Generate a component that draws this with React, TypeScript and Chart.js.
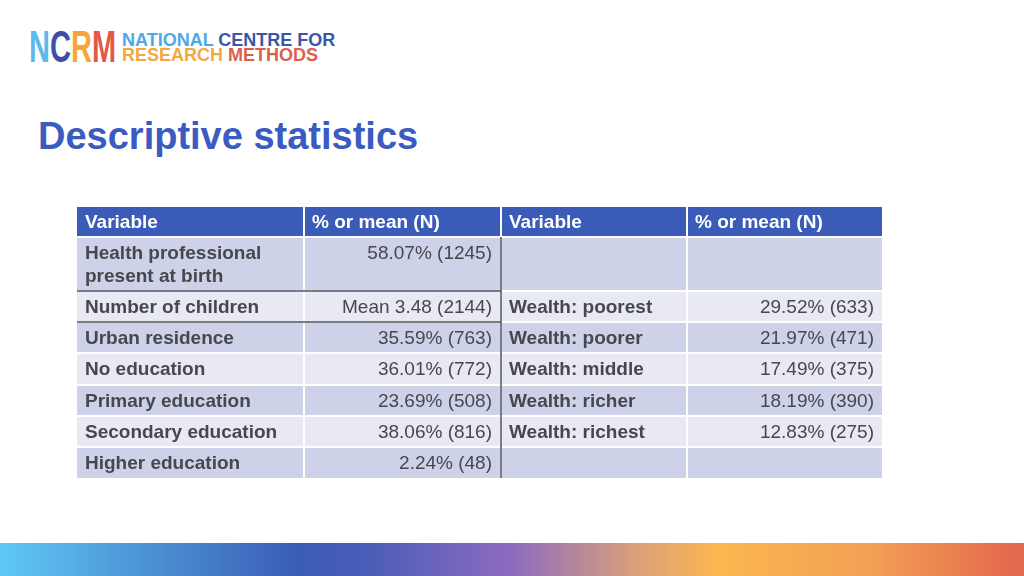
import React, { useEffect, useRef } from "react";
import { Chart, registerables } from "chart.js";

Chart.register(...registerables);

// ---- data ----
const HEADERS = ["Variable", "% or mean (N)", "Variable", "% or mean (N)"];
const LEFT_VARIABLES = [
  ["Health professional", "present at birth"],
  ["Number of children"],
  ["Urban residence"],
  ["No education"],
  ["Primary education"],
  ["Secondary education"],
  ["Higher education"],
];
const LEFT_VALUES = [
  "58.07% (1245)",
  "Mean 3.48 (2144)",
  "35.59% (763)",
  "36.01% (772)",
  "23.69% (508)",
  "38.06% (816)",
  "2.24% (48)",
];
const RIGHT_VARIABLES = [
  [""],
  ["Wealth: poorest"],
  ["Wealth: poorer"],
  ["Wealth: middle"],
  ["Wealth: richer"],
  ["Wealth: richest"],
  [""],
];
const RIGHT_VALUES = [
  "",
  "29.52% (633)",
  "21.97% (471)",
  "17.49% (375)",
  "18.19% (390)",
  "12.83% (275)",
  "",
];

// ---- layout (table units) ----
const COL_EDGES = [0, 227, 424, 610, 805];
const ROW_EDGES = [0, 30, 84, 115, 146, 178, 209, 240, 271];
const TABLE_W = 805;
const TABLE_H = 271;

const HEADER_BG = "#3B5BB9";
const ROW_DARK = "#CED2E9";
const ROW_LIGHT = "#E8E9F3";
const TEXT_COLOR = "#46474F";
const RULE_COLOR = "#4F525E";
const FONT_FAMILY = '"Liberation Sans", Arial, Helvetica, sans-serif';

const tablePlugin = {
  id: "tablePlugin",
  afterDraw(chart: any) {
    const ctx = chart.ctx as CanvasRenderingContext2D;
    const xs = chart.scales.x;
    const ys = chart.scales.y;
    const X = (v: number) => xs.getPixelForValue(v);
    const Y = (v: number) => ys.getPixelForValue(v);
    const nRows = ROW_EDGES.length - 1;
    const nCols = COL_EDGES.length - 1;
    ctx.save();
    // cell fills
    for (let r = 0; r < nRows; r++) {
      for (let c = 0; c < nCols; c++) {
        let x0 = X(COL_EDGES[c]);
        let x1 = X(COL_EDGES[c + 1]);
        let y0 = Y(ROW_EDGES[r]);
        let y1 = Y(ROW_EDGES[r + 1]);
        if (c > 0) x0 += 1;
        if (c < nCols - 1) x1 -= 1;
        if (r > 0) y0 += 1;
        if (r < nRows - 1) y1 -= 1;
        ctx.fillStyle = r === 0 ? HEADER_BG : r % 2 === 1 ? ROW_DARK : ROW_LIGHT;
        ctx.fillRect(x0, y0, x1 - x0, y1 - y0);
      }
    }
    // dark rules
    ctx.strokeStyle = RULE_COLOR;
    ctx.lineWidth = 1.5;
    ctx.beginPath();
    for (const r of [2, 3]) {
      const y = Y(ROW_EDGES[r]);
      ctx.moveTo(X(COL_EDGES[0]), y);
      ctx.lineTo(X(COL_EDGES[2]), y);
    }
    const vx = X(COL_EDGES[2]);
    ctx.moveTo(vx, Y(ROW_EDGES[1]));
    ctx.lineTo(vx, Y(ROW_EDGES[nRows]));
    ctx.stroke();

    // header text
    ctx.textBaseline = "middle";
    ctx.font = `bold 19px ${FONT_FAMILY}`;
    ctx.fillStyle = "#FFFFFF";
    ctx.textAlign = "left";
    HEADERS.forEach((h, c) => {
      const x0 = X(COL_EDGES[c]);
      const yc = (Y(ROW_EDGES[0]) + Y(ROW_EDGES[1])) / 2;
      ctx.fillText(h, x0 + 8, yc + 1);
    });

    // body text
    ctx.fillStyle = TEXT_COLOR;
    for (let i = 0; i < LEFT_VARIABLES.length; i++) {
      const r = i + 1;
      const yTop = Y(ROW_EDGES[r]);
      const first = yTop + 17;
      ctx.font = `bold 19px ${FONT_FAMILY}`;
      ctx.textAlign = "left";
      LEFT_VARIABLES[i].forEach((line, k) => {
        ctx.fillText(line, X(COL_EDGES[0]) + 8, first + k * 23);
      });
      RIGHT_VARIABLES[i].forEach((line, k) => {
        ctx.fillText(line, X(COL_EDGES[2]) + 8, first + k * 23);
      });
      ctx.font = `19px ${FONT_FAMILY}`;
      ctx.textAlign = "right";
      ctx.fillText(LEFT_VALUES[i], X(COL_EDGES[2]) - 9, first);
      ctx.fillText(RIGHT_VALUES[i], X(COL_EDGES[4]) - 8, first);
    }
    ctx.restore();
  },
};

function TableChart() {
  const ref = useRef<HTMLCanvasElement | null>(null);
  useEffect(() => {
    if (!ref.current) return;
    const chart = new Chart(ref.current, {
      type: "scatter",
      data: { datasets: [] },
      options: {
        animation: false,
        responsive: false,
        layout: { padding: 0 },
        plugins: { legend: { display: false }, tooltip: { enabled: false } },
        scales: {
          x: { type: "linear", min: 0, max: TABLE_W, display: false },
          y: { type: "linear", min: 0, max: TABLE_H, reverse: true, display: false },
        },
      },
      plugins: [tablePlugin],
    } as any);
    return () => chart.destroy();
  }, []);
  return <canvas ref={ref} width={TABLE_W} height={TABLE_H} style={{ display: "block" }} />;
}

export default function App() {
  const font = '"Liberation Sans", Arial, Helvetica, sans-serif';
  return (
    <div
      style={{
        position: "fixed",
        left: 0,
        top: 0,
        width: 1024,
        height: 576,
        background: "#FFFFFF",
        overflow: "hidden",
        fontFamily: font,
      }}
    >
      {/* logo */}
      <div
        style={{
          position: "absolute",
          left: 29,
          top: 25,
          fontSize: 44,
          lineHeight: "44px",
          fontWeight: "bold",
          transform: "scaleX(0.66)",
          transformOrigin: "left top",
          whiteSpace: "nowrap",
        }}
      >
        <span style={{ color: "#5BB9EE" }}>N</span>
        <span style={{ color: "#3D4FA8" }}>C</span>
        <span style={{ color: "#F5A53A" }}>R</span>
        <span style={{ color: "#E05A47" }}>M</span>
      </div>
      <div
        style={{
          position: "absolute",
          left: 122,
          top: 31,
          fontSize: 18,
          lineHeight: "18px",
          fontWeight: "bold",
          whiteSpace: "nowrap",
        }}
      >
        <span style={{ color: "#4DA9E6" }}>NATIONAL</span>{" "}
        <span style={{ color: "#3B56A6" }}>CENTRE FOR</span>
      </div>
      <div
        style={{
          position: "absolute",
          left: 122,
          top: 46,
          fontSize: 18,
          lineHeight: "18px",
          fontWeight: "bold",
          whiteSpace: "nowrap",
        }}
      >
        <span style={{ color: "#F2A93E" }}>RESEARCH</span>{" "}
        <span style={{ color: "#D9614B" }}>METHODS</span>
      </div>
      {/* title */}
      <div
        style={{
          position: "absolute",
          left: 38,
          top: 117,
          fontSize: 38,
          lineHeight: "38px",
          fontWeight: "bold",
          color: "#3A5BBF",
          whiteSpace: "nowrap",
        }}
      >
        Descriptive statistics
      </div>
      {/* table */}
      <div style={{ position: "absolute", left: 77, top: 207, width: TABLE_W, height: TABLE_H }}>
        <TableChart />
      </div>
      {/* gradient bar */}
      <div
        style={{
          position: "absolute",
          left: 0,
          top: 543,
          width: 1024,
          height: 33,
          background:
            "linear-gradient(to right, #5EC8F4 0%, #3A5CB5 29%, #4B5DB8 36%, #8E6BC0 50%, #D9A07A 62%, #FBB750 70%, #F3A055 85%, #E3664D 100%)",
        }}
      />
    </div>
  );
}
